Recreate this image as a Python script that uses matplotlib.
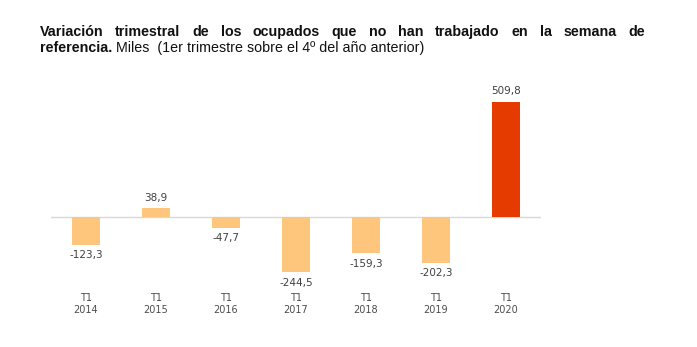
import matplotlib
matplotlib.use("Agg")
import matplotlib.pyplot as plt

years = ["2014", "2015", "2016", "2017", "2018", "2019", "2020"]
quarter = "T1"
values = [-123.3, 38.9, -47.7, -244.5, -159.3, -202.3, 509.8]
title_line1 = "Variación trimestral de los ocupados que no han trabajado en la semana de"
title_bold2 = "referencia."
title_rest2 = " Miles  (1er trimestre sobre el 4º del año anterior)"

light = "#FDC67C"
highlight = "#E63B00"
colors = [light] * (len(values) - 1) + [highlight]

W, H = 697, 347
fig = plt.figure(figsize=(W / 100, H / 100), dpi=100)
ax = fig.add_axes([51 / W, (H - 287) / H, 490 / W, 197 / H])

x = list(range(len(values)))
bars = ax.bar(x, values, width=0.4, color=colors, zorder=2)
ax.axhline(0, color="#D9D9D9", lw=1, zorder=1)
ax.set_xlim(-0.5, len(values) - 0.5)
ax.set_ylim(-310, 563)
for s in ax.spines.values():
    s.set_visible(False)
ax.set_yticks([])
ax.set_xticks(x)
ax.set_xticklabels([f"{quarter}\n{y}" for y in years], fontsize=7, color="#4D4D4D",
                   linespacing=1.25)
ax.tick_params(axis="x", length=0, pad=4)

labels = [f"{v:.1f}".replace(".", ",") for v in values]
ax.bar_label(bars, labels=labels, padding=4, fontsize=7.5, color="#404040")

fam = ["Liberation Sans", "DejaVu Sans"]
fs = 10.3
# justified first title line
words = title_line1.split(" ")
fig.canvas.draw()
r = fig.canvas.get_renderer()
txts = []
for w in words:
    t = fig.text(0, 0, w, fontsize=fs, fontweight="bold", family=fam, color="#111111")
    txts.append(t)
widths = [t.get_window_extent(r).width for t in txts]
x0, x1 = 40, 645
gap = (x1 - x0 - sum(widths)) / (len(words) - 1)
cur = x0
y1 = H - 36
for t, wd in zip(txts, widths):
    t.set_position((cur / W, y1 / H))
    cur += wd + gap

t2 = fig.text(x0 / W, (H - 52) / H, title_bold2, fontsize=fs, fontweight="bold",
              family=fam, color="#111111")
ax.annotate(title_rest2, xy=(1, 0), xycoords=t2, va="bottom", ha="left",
            fontsize=fs, family=fam, color="#111111", annotation_clip=False)

fig.savefig("out.png", dpi=100)
